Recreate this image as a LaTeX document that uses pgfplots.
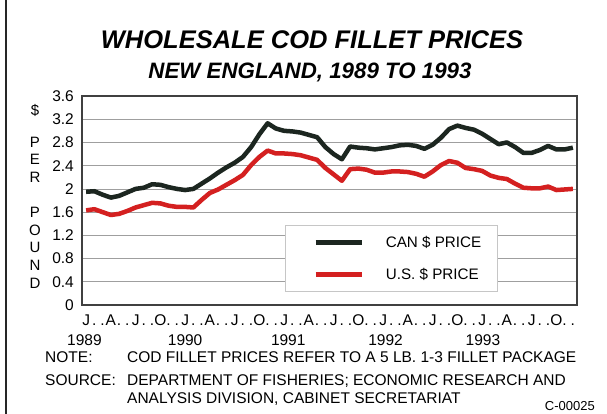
\documentclass[border=0pt]{standalone}
\usepackage{pgfplots}
\usepackage{pgfplotstable}
\pgfplotsset{compat=1.18}
\usepackage{fontspec}
\setmainfont{Liberation Sans}
\definecolor{canc}{RGB}{28,38,32}
\definecolor{usc}{RGB}{212,32,32}

\pgfplotstableread{
m can us
0.5 1.95 1.63
1.5 1.96 1.65
2.5 1.90 1.60
3.5 1.85 1.55
4.5 1.88 1.57
5.5 1.94 1.62
6.5 2.00 1.68
7.5 2.02 1.72
8.5 2.08 1.76
9.5 2.07 1.75
10.5 2.03 1.71
11.5 2.00 1.69
12.5 1.98 1.69
13.5 2.00 1.68
14.5 2.09 1.81
15.5 2.18 1.93
16.5 2.28 1.99
17.5 2.37 2.07
18.5 2.45 2.15
19.5 2.55 2.24
20.5 2.72 2.41
21.5 2.94 2.55
22.5 3.13 2.66
23.5 3.04 2.61
24.5 3.00 2.61
25.5 2.99 2.60
26.5 2.97 2.58
27.5 2.93 2.54
28.5 2.89 2.50
29.5 2.72 2.36
30.5 2.60 2.25
31.5 2.51 2.14
32.5 2.73 2.34
33.5 2.71 2.35
34.5 2.70 2.33
35.5 2.68 2.28
36.5 2.70 2.28
37.5 2.72 2.30
38.5 2.75 2.30
39.5 2.76 2.29
40.5 2.74 2.26
41.5 2.69 2.21
42.5 2.76 2.30
43.5 2.88 2.41
44.5 3.03 2.48
45.5 3.09 2.45
46.5 3.05 2.36
47.5 3.02 2.34
48.5 2.95 2.31
49.5 2.86 2.23
50.5 2.77 2.19
51.5 2.80 2.17
52.5 2.72 2.09
53.5 2.62 2.02
54.5 2.62 2.01
55.5 2.67 2.01
56.5 2.74 2.04
57.5 2.68 1.98
58.5 2.68 1.99
59.5 2.71 2.00
}\datatable

\begin{document}
\begin{tikzpicture}[x=1pt,y=1pt]
\useasboundingbox (0,0) rectangle (607,-414);
\draw[line width=2pt, black!85] (6,0) -- (6,-414);

\node[font=\fontsize{25.5}{25.5}\selectfont\bfseries\itshape] at (312,-40) {WHOLESALE COD FILLET PRICES};
\node[font=\fontsize{22.3}{22.3}\selectfont\bfseries\itshape] at (310,-72) {NEW ENGLAND, 1989 TO 1993};

\begin{scope}[every node/.style={font=\fontsize{15}{15}\selectfont}]
\node at (35,-110) {\$};
\node at (35,-142) {P};
\node at (35,-159) {E};
\node at (35,-177) {R};
\node at (35,-212) {P};
\node at (35,-230) {O};
\node at (35,-247) {U};
\node at (35,-265) {N};
\node at (35,-283) {D};
\end{scope}

\begin{axis}[
  at={(82pt,-305pt)}, anchor=south west,
  scale only axis, width=495pt, height=209pt,
  xmin=0, xmax=60, ymin=0, ymax=3.6,
  ytick={0,0.4,0.8,1.2,1.6,2,2.4,2.8,3.2,3.6},
  yticklabels={0,0.4,0.8,1.2,1.6,2,2.4,2.8,3.2,3.6},
  xtick={0.5,1.5,...,59.5},
  xticklabels={J,.,.,A,.,.,J,.,.,O,.,.,J,.,.,A,.,.,J,.,.,O,.,.,J,.,.,A,.,.,J,.,.,O,.,.,J,.,.,A,.,.,J,.,.,O,.,.,J,.,.,A,.,.,J,.,.,O,.,.},
  major tick length=0pt,
  ymajorgrids,
  grid style={gray!75, line width=0.7pt},
  axis line style={black!75, line width=1.1pt},
  tick label style={font=\fontsize{15.5}{15.5}\selectfont},
  yticklabel style={anchor=east, inner sep=0pt, xshift=-8pt},
  xticklabel style={anchor=base, inner sep=0pt, yshift=-20pt},
  clip=false,
  legend style={at={(0.41,0.383)}, anchor=north west, draw=gray!45, line width=0.8pt, fill=white,
    font=\fontsize{15.2}{15.2}\selectfont, inner xsep=14pt, inner ysep=9pt, row sep=15pt, cells={anchor=west}},
  legend image code/.code={\path (0pt,0pt); \draw[#1] (14pt,0pt) -- (60pt,0pt);},
  /tikz/every odd column/.append style={column sep=20pt},
]
\addplot[canc, line width=4.5pt, line join=round] table[x=m,y=can]{\datatable};
\addlegendentry{CAN \$ PRICE}
\addplot[usc, line width=4.5pt, line join=round] table[x=m,y=us]{\datatable};
\addlegendentry{U.S. \$ PRICE}

\node[anchor=base, font=\fontsize{15.5}{15.5}\selectfont, yshift=-40pt] at (axis cs:0.3,0) {1989};
\node[anchor=base, font=\fontsize{15.5}{15.5}\selectfont, yshift=-40pt] at (axis cs:12.5,0) {1990};
\node[anchor=base, font=\fontsize{15.5}{15.5}\selectfont, yshift=-40pt] at (axis cs:25,0) {1991};
\node[anchor=base, font=\fontsize{15.5}{15.5}\selectfont, yshift=-40pt] at (axis cs:36.8,0) {1992};
\node[anchor=base, font=\fontsize{15.5}{15.5}\selectfont, yshift=-40pt] at (axis cs:48.6,0) {1993};
\end{axis}

\begin{scope}[every node/.style={font=\fontsize{15.5}{15.5}\selectfont, inner sep=0pt, anchor=base west}]
\node at (45,-362.5) {NOTE:};
\node at (127,-362.5) {COD FILLET PRICES REFER TO A 5 LB. 1-3 FILLET PACKAGE};
\node at (45,-385.5) {SOURCE:};
\node at (127,-385.5) {DEPARTMENT OF FISHERIES; ECONOMIC RESEARCH AND};
\node at (127,-403.5) {ANALYSIS DIVISION, CABINET SECRETARIAT};
\end{scope}
\node[font=\fontsize{13}{13}\selectfont, inner sep=0pt, anchor=base east] at (595,-410) {C-00025};
\end{tikzpicture}
\end{document}
